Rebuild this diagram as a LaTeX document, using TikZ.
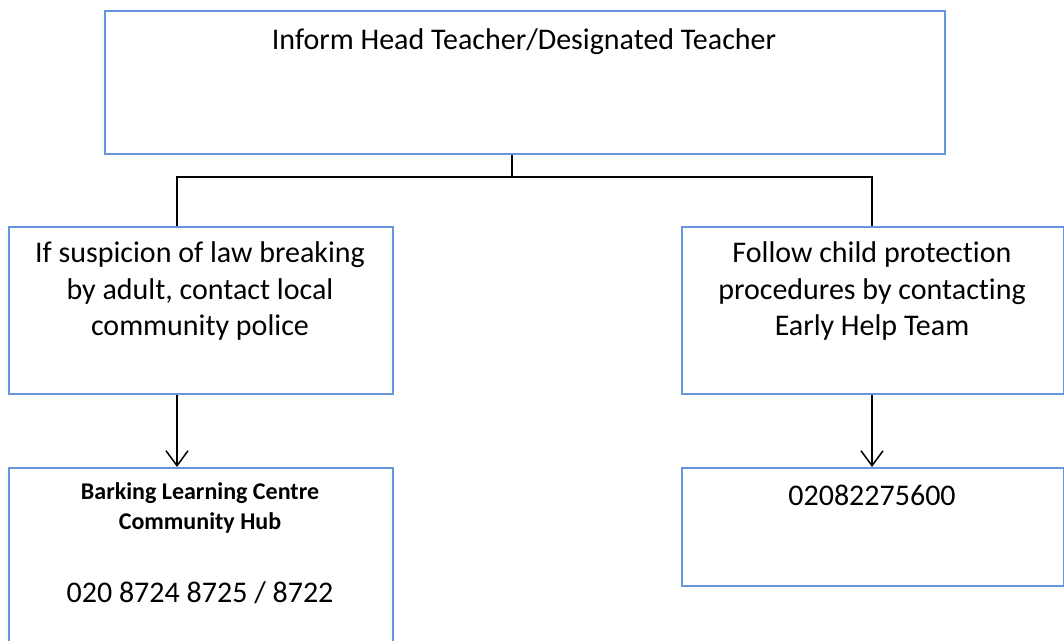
\documentclass[tikz,border=0pt]{standalone}
\usepackage{fontspec}
\setmainfont{Carlito}[Ligatures=NoCommon]
\usetikzlibrary{arrows.meta}
\definecolor{boxblue}{RGB}{100,149,222}
\begin{document}
\begin{tikzpicture}[x=1pt,y=-1pt,
  box/.style={draw=boxblue,line width=1.5pt,inner sep=0pt,anchor=north west},
  lbl/.style={font=\fontsize{30}{36.5}\selectfont,align=center,anchor=center,inner sep=0pt},
  blbl/.style={font=\fontsize{24}{30}\selectfont\bfseries,align=center,anchor=center,inner sep=0pt},
  conn/.style={line width=1.5pt,black},
  arr/.style={conn,-{Straight Barb[length=15pt,width=22pt,line width=1.5pt]}}]
\useasboundingbox (0,0) rectangle (1064,640);
% boxes
\node[box,minimum width=840pt,minimum height=143pt] (top) at (104,10) {};
\node[box,minimum width=384pt,minimum height=167pt] (left) at (8,226) {};
\node[box,minimum width=382pt,minimum height=167pt] (right) at (681,226) {};
\node[box,minimum width=384pt,minimum height=185pt] (bl) at (8,467) {};
\node[box,minimum width=382pt,minimum height=118pt] (br) at (681,467) {};
% texts
\node[lbl] (ttop) at (524,42) {Inform Head Teacher/Designated Teacher};
\node[lbl] (tleft) at (200,291) {If suspicion of law breaking\\by adult, contact local\\community police};
\node[lbl] (tright) at (872,291) {Follow child protection\\procedures by contacting\\Early Help Team};
\node[blbl] (tbl) at (200,508) {Barking Learning Centre\\Community Hub};
\node[lbl] (tphone) at (200,593) {020 8724 8725 / 8722};
\node[lbl] (tbr) at (872,495) {02082275600};
% connectors
\coordinate (j) at (512,177);
\coordinate (lj) at (177,177);
\coordinate (rj) at (872,177);
\draw[conn] (j |- top.south) -- (j);
\draw[conn] (lj |- left.north) -- (lj) -- (rj) -- (rj |- right.north);
\draw[arr] (lj |- left.south) -- (lj |- bl.north);
\draw[arr] (rj |- right.south) -- (rj |- br.north);
\end{tikzpicture}
\end{document}
